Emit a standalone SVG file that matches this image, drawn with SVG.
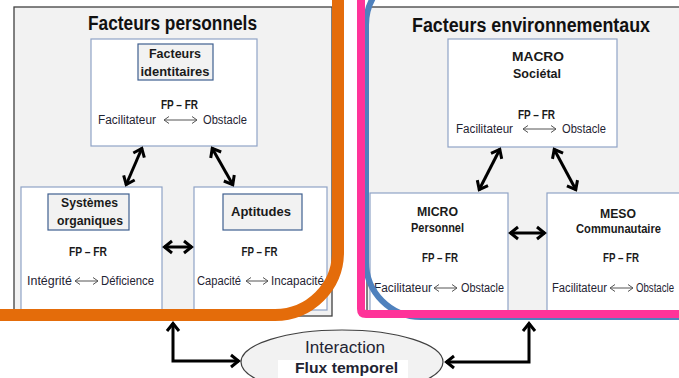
<svg xmlns="http://www.w3.org/2000/svg" width="679" height="378" viewBox="0 0 679 378">
<style>
text{font-family:"Liberation Sans",Arial,sans-serif;fill:#1f2433}
.t{font-size:20px;font-weight:bold;fill:#111}
.lb{font-size:13px;font-weight:bold;fill:#1a1a1a}
.r{font-size:12.5px}
.panel{fill:#f2f2f2;stroke:#404040;stroke-width:1.3}
.box{fill:#fff;stroke:#8fa3c6;stroke-width:1.2}
.lab{fill:#f2f2f2;stroke:#3f5f8f;stroke-width:1.2}
.thin{stroke:#555;stroke-width:1;fill:none;marker-start:url(#sm);marker-end:url(#sm)}
.thick{stroke:#000;stroke-width:3;fill:none;marker-start:url(#bg);marker-end:url(#bg)}
</style>
<defs>
<marker id="bg" markerUnits="userSpaceOnUse" markerWidth="24" markerHeight="24" viewBox="-12 -12 24 24" refX="0" refY="0" orient="auto-start-reverse" overflow="visible"><path d="M-8,-6 L-0.5,0 L-8,6" fill="none" stroke="#000" stroke-width="3"/></marker>
<marker id="sm" markerUnits="userSpaceOnUse" markerWidth="14" markerHeight="14" viewBox="-7 -7 14 14" refX="0" refY="0" orient="auto-start-reverse" overflow="visible"><path d="M-5,-3.5 L0,0 L-5,3.5" fill="none" stroke="#555" stroke-width="1"/></marker>
</defs>
<rect width="679" height="378" fill="#fff"/>
<g id="panel-personnels">
<rect class="panel" x="14" y="7" width="318" height="309"/>
<text class="t" x="172.5" y="30" text-anchor="middle" textLength="169" lengthAdjust="spacingAndGlyphs">Facteurs personnels</text>
</g>
<g id="panel-environnementaux">
<rect class="panel" x="367" y="7" width="330" height="309"/>
<text class="t" x="531" y="32" text-anchor="middle" textLength="238" lengthAdjust="spacingAndGlyphs">Facteurs environnementaux</text>
</g>
<g id="node-identitaires">
<rect class="box" x="91" y="39" width="166" height="107"/>
<rect class="lab" x="138" y="44" width="75" height="36"/>
<text class="lb" x="175" y="58" text-anchor="middle" textLength="52" lengthAdjust="spacingAndGlyphs">Facteurs</text>
<text class="lb" x="175" y="76" text-anchor="middle" textLength="69" lengthAdjust="spacingAndGlyphs">identitaires</text>
<text class="lb" x="179.5" y="109" text-anchor="middle" textLength="37" lengthAdjust="spacingAndGlyphs">FP – FR</text>
<text class="r" x="98" y="124" textLength="58" lengthAdjust="spacingAndGlyphs">Facilitateur</text>
<line class="thin" x1="164" y1="120" x2="197" y2="120"/>
<text class="r" x="203" y="124" textLength="44" lengthAdjust="spacingAndGlyphs">Obstacle</text>
</g>
<g id="node-systemes">
<rect class="box" x="21" y="187" width="141" height="123"/>
<rect class="lab" x="48" y="194" width="81" height="36"/>
<text class="lb" x="89.5" y="207" text-anchor="middle" textLength="57" lengthAdjust="spacingAndGlyphs">Systèmes</text>
<text class="lb" x="90" y="225" text-anchor="middle" textLength="66" lengthAdjust="spacingAndGlyphs">organiques</text>
<text class="lb" x="88" y="256" text-anchor="middle" textLength="38" lengthAdjust="spacingAndGlyphs">FP – FR</text>
<text class="r" x="27" y="285" textLength="45" lengthAdjust="spacingAndGlyphs">Intégrité</text>
<line class="thin" x1="75" y1="281" x2="98" y2="281"/>
<text class="r" x="101" y="285" textLength="53" lengthAdjust="spacingAndGlyphs">Déficience</text>
</g>
<g id="node-aptitudes">
<rect class="box" x="194" y="187" width="133" height="123"/>
<rect class="lab" x="223" y="194" width="79" height="36"/>
<text class="lb" x="261" y="216" text-anchor="middle" textLength="60" lengthAdjust="spacingAndGlyphs">Aptitudes</text>
<text class="lb" x="259.5" y="256" text-anchor="middle" textLength="36" lengthAdjust="spacingAndGlyphs">FP – FR</text>
<text class="r" x="197" y="285" textLength="44" lengthAdjust="spacingAndGlyphs">Capacité</text>
<line class="thin" x1="246" y1="281" x2="268" y2="281"/>
<text class="r" x="271" y="285" textLength="53" lengthAdjust="spacingAndGlyphs">Incapacité</text>
</g>
<g id="node-macro">
<rect class="box" x="448" y="39" width="169" height="108"/>
<text class="lb" x="538" y="61" text-anchor="middle" font-size="14.5" textLength="52" lengthAdjust="spacingAndGlyphs">MACRO</text>
<text class="lb" x="537" y="78" text-anchor="middle" textLength="48" lengthAdjust="spacingAndGlyphs">Sociétal</text>
<text class="lb" x="536.5" y="119" text-anchor="middle" textLength="37" lengthAdjust="spacingAndGlyphs">FP – FR</text>
<text class="r" x="456" y="133" textLength="57" lengthAdjust="spacingAndGlyphs">Facilitateur</text>
<line class="thin" x1="523" y1="129" x2="556" y2="129"/>
<text class="r" x="562" y="133" textLength="44" lengthAdjust="spacingAndGlyphs">Obstacle</text>
</g>
<g id="node-micro">
<rect class="box" x="370" y="193" width="138" height="118"/>
<text class="lb" x="437.5" y="216" text-anchor="middle" textLength="41" lengthAdjust="spacingAndGlyphs">MICRO</text>
<text class="lb" x="437.5" y="232" text-anchor="middle" font-size="12" textLength="53" lengthAdjust="spacingAndGlyphs">Personnel</text>
<text class="lb" x="440" y="262" text-anchor="middle" textLength="36" lengthAdjust="spacingAndGlyphs">FP – FR</text>
<text class="r" x="374" y="292" textLength="58" lengthAdjust="spacingAndGlyphs">Facilitateur</text>
<line class="thin" x1="434" y1="288" x2="457" y2="288"/>
<text class="r" x="461" y="292" textLength="43" lengthAdjust="spacingAndGlyphs">Obstacle</text>
</g>
<g id="node-meso">
<rect class="box" x="547" y="193" width="150" height="118"/>
<text class="lb" x="618" y="218" text-anchor="middle" textLength="36" lengthAdjust="spacingAndGlyphs">MESO</text>
<text class="lb" x="618.5" y="233" text-anchor="middle" font-size="12" textLength="85" lengthAdjust="spacingAndGlyphs">Communautaire</text>
<text class="lb" x="621" y="262" text-anchor="middle" textLength="36" lengthAdjust="spacingAndGlyphs">FP – FR</text>
<text class="r" x="552" y="292" textLength="55" lengthAdjust="spacingAndGlyphs">Facilitateur</text>
<line class="thin" x1="610" y1="288" x2="633" y2="288"/>
<text class="r" x="636" y="292" textLength="38" lengthAdjust="spacingAndGlyphs">Obstacle</text>
</g>
<g id="connectors">
<line class="thick" x1="142" y1="148" x2="126" y2="185"/>
<line class="thick" x1="212" y1="148" x2="233" y2="185"/>
<line class="thick" x1="164" y1="247" x2="192" y2="247"/>
<line class="thick" x1="500" y1="149" x2="479" y2="190"/>
<line class="thick" x1="554" y1="149" x2="576" y2="190"/>
<line class="thick" x1="510" y1="233" x2="545" y2="233"/>
</g>
<g id="borders">
<rect x="366" y="-30" width="400" height="347" rx="55" fill="none" stroke="#4f81bd" stroke-width="6"/>
<path d="M361,0 V309 Q361,314 366,314 H690" fill="none" stroke="#ff3399" stroke-width="8"/>
<path d="M-5,315 H275 A63,63 0 0 0 338,252 V-5" fill="none" stroke="#e46c0a" stroke-width="12"/>
</g>
<g id="node-interaction">
<ellipse cx="342" cy="362" rx="101" ry="32" fill="#f2f2f2" stroke="#404040" stroke-width="1.2"/>
<text x="345" y="353" text-anchor="middle" font-size="16" fill="#333" textLength="80" lengthAdjust="spacingAndGlyphs">Interaction</text>
<rect x="278" y="360" width="130" height="18" fill="#fff"/>
<text x="346.5" y="373" text-anchor="middle" font-size="14" font-weight="bold" fill="#000" textLength="103" lengthAdjust="spacingAndGlyphs">Flux temporel</text>
</g>
<g id="connectors-interaction">
<path class="thick" d="M173,323 V361 H239"/>
<path class="thick" d="M529,323 V362 H446"/>
</g>
</svg>
